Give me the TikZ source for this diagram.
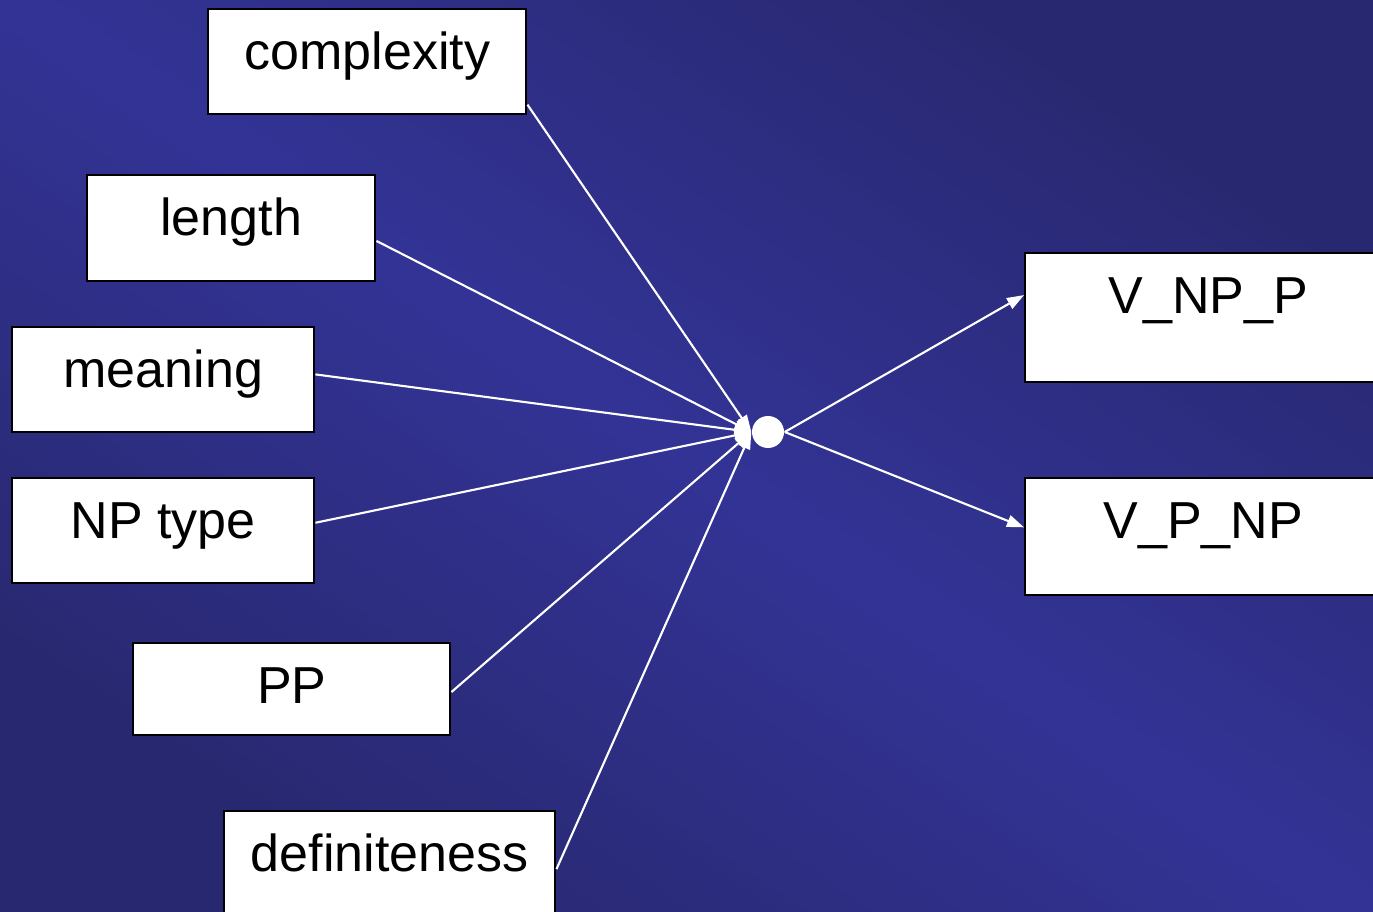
\documentclass[tikz,border=0pt]{standalone}
\usepackage{fontspec}
\setmainfont{Liberation Sans}
\usepackage{tikz}
\usetikzlibrary{arrows.meta}
\definecolor{cBlue}{RGB}{51,51,150}
\definecolor{cDark}{RGB}{40,40,112}
\newcommand{\boxfont}{\fontsize{14.8}{17}\selectfont}

\begin{document}
\begin{tikzpicture}[x=0.1mm,y=-0.1mm,
    factor/.style={draw=black,line width=0.7pt,fill=white,anchor=north west,
      inner sep=0pt,text height=6mm,font=\boxfont},
    link/.style={white,line width=0.6pt,-{Triangle[length=1.7mm,width=1.2mm]}}]
  \useasboundingbox (0,0) rectangle (1373,912);
  \clip (0,0) rectangle (1373,912);
  \shade[top color=cDark,bottom color=cDark,middle color=cBlue,shading angle=-34]
    (0,0) rectangle (1373,912);
  % influencing factors
  \node[factor,minimum width=31.8mm,text depth=4.5mm] (cx) at (207,8) {complexity};
  \node[factor,minimum width=28.8mm,text depth=4.6mm] (len) at (86,174) {length};
  \node[factor,minimum width=30.2mm,text depth=4.5mm] (mean) at (11,326) {meaning};
  \node[factor,minimum width=30.2mm,text depth=4.5mm] (npt) at (11,477) {NP type};
  \node[factor,minimum width=31.7mm,text depth=3.2mm] (pp) at (132,642) {PP};
  \node[factor,minimum width=33.1mm,text depth=5mm] (dfn) at (223,810) {definiteness};
  % word orders
  \node[factor,minimum width=36.6mm,text depth=6.9mm] (vnpp) at (1024,252) {V\_NP\_P};
  \node[factor,minimum width=35.6mm,text depth=5.7mm] (vpnp) at (1024,477) {V\_P\_NP};
  \node[circle,fill=white,minimum size=3.2mm,inner sep=0pt] (hub) at (768,432) {};
  \draw[link] (cx.-15) -- (hub.west);
  \draw[link] (len.-5.2) -- (hub.west);
  \draw[link] (mean.2.8) -- (hub.west);
  \draw[link] (npt.3.2) -- (hub.west);
  \draw[link] (pp.-1.1) -- (hub.west);
  \draw[link] (dfn.-1.7) -- (hub.west);
  \draw[link] (hub.east) -- (vnpp.173.6);
  \draw[link] (hub.east) -- (vpnp.177.3);
\end{tikzpicture}
\end{document}
